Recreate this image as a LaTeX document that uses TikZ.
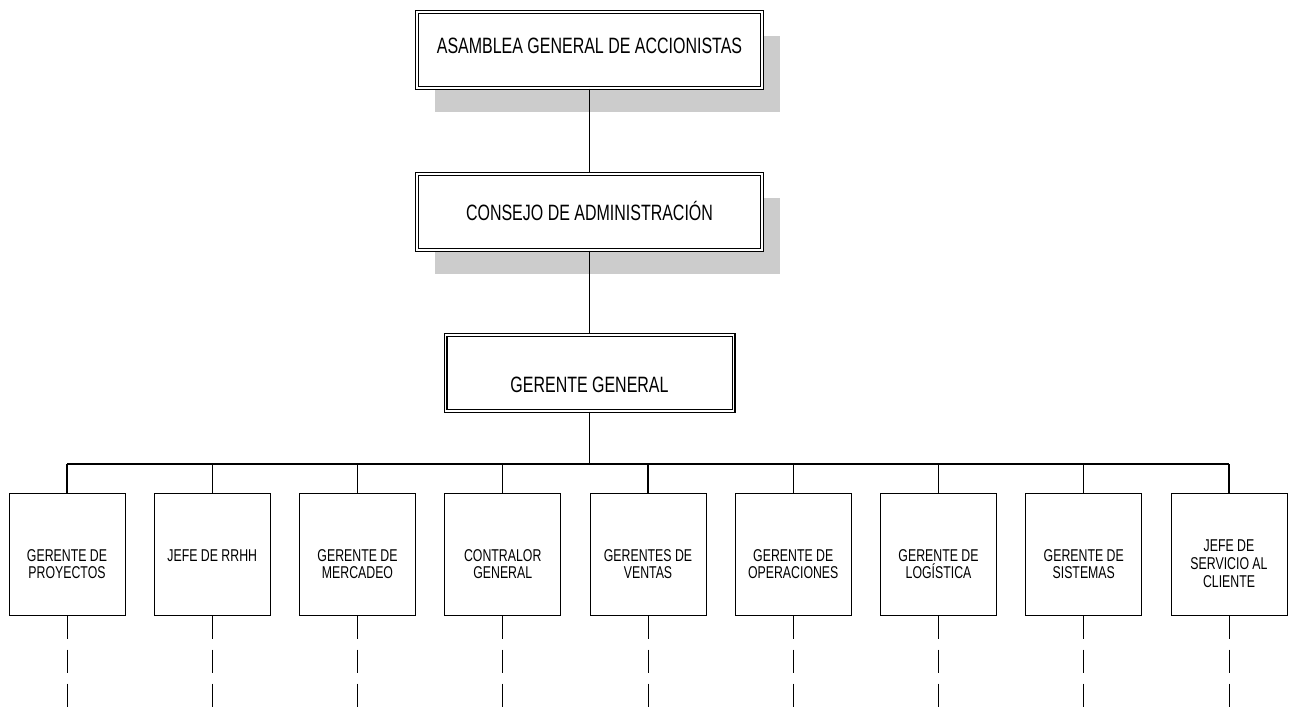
\documentclass[tikz,border=0pt]{standalone}
\usepackage{fontspec}
\setmainfont{Liberation Sans}[FakeStretch=0.72]
\usetikzlibrary{shadows}

\begin{document}
\begin{tikzpicture}[x=0.5pt,y=0.5pt,
  mainbox/.style={draw, line width=0.55pt, double, double distance=0.9pt, fill=white,
    minimum height=38pt, inner sep=0pt, font=\fontsize{11.1}{13}\selectfont, text depth=0pt},
  shadowed/.style={drop shadow={shadow xshift=8.75pt, shadow yshift=-12pt, fill=black!20, opacity=1}},
  subbox/.style={draw, line width=0.5pt, minimum width=58pt, minimum height=61pt, inner sep=0pt,
    align=center, font=\fontsize{8.55}{9}\selectfont, text height=#1, text depth=0pt},
  subbox/.default=7pt,
  link/.style={line width=0.6pt},
  bus/.style={line width=0.9pt},
  dashline/.style={line width=0.5pt, dash pattern=on 11.5pt off 5.5pt}]
\useasboundingbox (0,0) rectangle (1295,718);
\node[mainbox, shadowed, minimum width=172.5pt, text height=4pt] (asamblea) at (589.5,668) {ASAMBLEA GENERAL DE ACCIONISTAS};
\node[mainbox, shadowed, minimum width=172.5pt, text height=9pt] (consejo) at (589.5,506) {CONSEJO DE ADMINISTRACIÓN};
\node[mainbox, minimum width=144pt, text height=20pt] (gerente) at (589.5,345) {GERENTE GENERAL};
\coordinate (bus) at (589.5,254);
\coordinate (floor) at (0,10);
\foreach \n/\h/\t [count=\i] in {proyectos/25pt/{GERENTE DE\\PROYECTOS}, rrhh/7pt/{JEFE DE RRHH},
    mercadeo/25pt/{GERENTE DE\\MERCADEO}, contralor/25pt/{CONTRALOR\\GENERAL}, ventas/25pt/{GERENTES DE\\VENTAS},
    operaciones/25pt/{GERENTE DE\\OPERACIONES}, logistica/25pt/{GERENTE DE\\LOGÍSTICA},
    sistemas/25pt/{GERENTE DE\\SISTEMAS}, servicio/33pt/{JEFE DE\\SERVICIO AL\\CLIENTE}}
  \node[subbox=\h] (\n) at ({67+(\i-1)*145.25},164) {\t};
\draw[link] (asamblea) -- (consejo);
\draw[link] (consejo) -- (gerente);
\draw[bus] (gerente.south) -- (bus);
\draw[bus] (proyectos.north |- bus) -- (servicio.north |- bus);
\foreach \n in {proyectos,rrhh,mercadeo,contralor,ventas,operaciones,logistica,sistemas,servicio} {
  \draw[link] (\n.north) -- (\n.north |- bus);
  \draw[dashline] (\n.south) -- (\n.south |- floor);
}
\end{tikzpicture}
\end{document}
